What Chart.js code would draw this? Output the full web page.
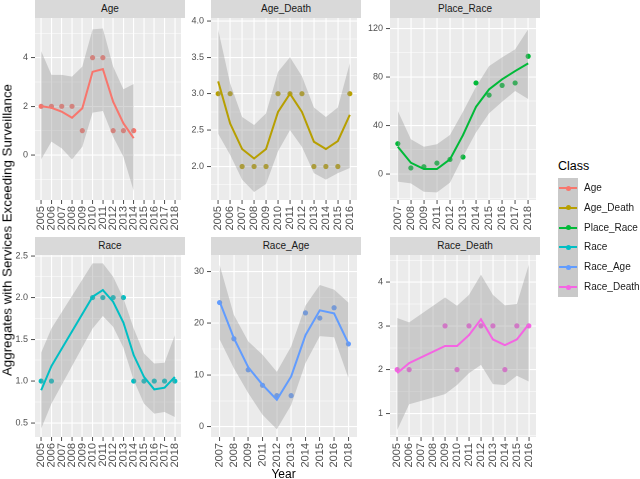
<!DOCTYPE html>
<html><head><meta charset="utf-8">
<script src="https://cdn.jsdelivr.net/npm/chart.js@4.4.0/dist/chart.umd.min.js"></script>
<style>
html,body{margin:0;padding:0;background:#fff;}
#wrap{position:relative;width:640px;height:479px;overflow:hidden;font-family:"Liberation Sans",Arial,sans-serif;}
#wrap canvas{position:absolute;}
.strip{position:absolute;height:18px;background:#D9D9D9;color:#1A1A1A;font-size:10px;line-height:18px;text-align:center;white-space:nowrap;}
.ytitle{position:absolute;left:7px;top:230px;transform:translate(-50%,-50%) rotate(-90deg);white-space:nowrap;font-size:13.3px;line-height:13px;color:#000;}
.xtitle{position:absolute;left:283.5px;top:468px;transform:translateX(-50%);white-space:nowrap;font-size:12px;line-height:12px;color:#000;}
.ltitle{position:absolute;left:558px;top:160px;font-size:12.5px;line-height:12.5px;color:#000;white-space:nowrap;}
.lkeys{position:absolute;left:558px;top:178px;width:20px;height:119px;background:#C9C9C9;}
.lkey{position:absolute;left:0;width:20px;height:19.8px;}
.lkey .ln{position:absolute;left:1px;right:1px;top:9px;height:2px;}
.lkey .dt{position:absolute;left:7.5px;top:7.5px;width:5px;height:5px;border-radius:50%;}
.llab{position:absolute;left:584px;font-size:10px;line-height:12px;color:#1A1A1A;white-space:nowrap;}
</style>
</head><body>
<div id="wrap"></div>
<script>
// ---------- data ----------
const classNames = ['Age','Age_Death','Place_Race','Race','Race_Age','Race_Death'];
const classColors = ['#F8766D','#B79F00','#00BA38','#00BFC4','#619CFF','#F564E3'];

const ageYears = ['2005','2006','2007','2008','2009','2010','2011','2012','2013','2014','2015','2016','2017','2018'];
const agePoints = [2,2,2,2,1,4,4,1,1,1,null,null,null,null];
const ageFit    = [2.01,1.94,1.78,1.53,1.92,3.42,3.53,2.19,1.30,0.69,null,null,null,null];
const ageUpper  = [4.27,3.29,3.29,3.22,3.63,5.16,5.20,3.63,2.70,2.92,null,null,null,null];
const ageLower  = [-0.18,0.55,0.27,-0.18,0.34,1.74,1.81,0.75,-0.07,-1.48,null,null,null,null];
const ageTicks  = [0,2,4];

const ageDeathYears = ['2005','2006','2007','2008','2009','2010','2011','2012','2013','2014','2015','2016'];
const ageDeathPoints = [3,3,2,2,2,3,3,3,2,2,2,3];
const ageDeathFit    = [3.17,2.59,2.24,2.11,2.24,2.75,3.00,2.75,2.34,2.24,2.35,2.71];
const ageDeathUpper  = [3.88,3.14,2.68,2.57,2.73,3.30,3.50,3.24,2.81,2.68,2.81,3.42];
const ageDeathLower  = [2.45,2.16,1.82,1.65,1.76,2.21,2.50,2.27,1.91,1.82,1.91,1.98];
const ageDeathTicks  = [2.0,2.5,3.0,3.5,4.0];

const placeRaceYears = ['2007','2008','2009','2011','2012','2013','2014','2015','2016','2017','2018'];
const placeRacePoints = [25,5,6,9,12,14,75,65,73,75,97];
const placeRaceFit    = [22.5,9.3,4.1,4.1,12.1,32.1,55.4,69.7,78.0,84.8,91.1];
const placeRaceUpper  = [51.9,28.6,22.5,24.5,32.1,51.3,71.9,88.9,96.1,102.7,119.2];
const placeRaceLower  = [-6.3,-7.7,-14.6,-15.1,-7.1,14.3,34.3,50.0,59.5,68.4,61.8];
const placeRaceTicks  = [0,40,80,120];

const raceYears = ['2005','2006','2007','2008','2009','2010','2011','2012','2013','2014','2015','2016','2017','2018'];
const racePoints = [1,1,null,null,null,2,2,2,2,1,1,1,1,1];
const raceFit    = [0.89,1.18,null,null,null,2.01,2.09,1.95,1.70,1.31,1.05,0.90,0.92,1.05];
const raceUpper  = [1.34,1.63,null,null,null,2.41,2.41,2.25,1.99,1.63,1.33,1.21,1.22,1.55];
const raceLower  = [0.43,0.73,null,null,null,1.63,1.78,1.65,1.40,1.01,0.73,0.61,0.63,0.57];
const raceTicks  = [0.5,1.0,1.5,2.0,2.5];

const raceAgeYears = ['2007','2008','2009','2011','2012','2013','2014','2015','2016','2018'];
const raceAgePoints = [24,17,11,8,6,6,22,21,23,16];
const raceAgeFit    = [24.2,17.1,11.5,8.1,5.2,9.7,17.7,22.5,21.9,16.1];
const raceAgeUpper  = [31.3,21.6,16.5,13.9,10.6,15.5,23.4,27.4,26.5,24.0];
const raceAgeLower  = [16.9,11.3,6.5,2.3,-0.5,4.2,12.3,17.5,17.3,9.4];
const raceAgeTicks  = [0,10,20,30];

const raceDeathYears = ['2005','2006','2007','2008','2009','2010','2011','2012','2013','2014','2015','2016'];
const raceDeathPoints = [2,2,null,null,3,2,3,3,3,2,3,3];
const raceDeathFit    = [1.92,2.15,null,null,2.54,2.54,2.79,3.15,2.69,2.56,2.69,3.04];
const raceDeathUpper  = [3.18,3.08,null,null,3.65,3.46,3.71,4.17,3.71,3.47,3.50,4.40];
const raceDeathLower  = [0.62,1.21,null,null,1.44,1.65,1.92,2.11,1.67,1.65,1.86,1.73];
const raceDeathTicks  = [1,2,3,4];

// ---------- layout ----------
const FONT = '"Liberation Sans", Arial, sans-serif';
const PANEL_W = 150, PANEL_H = 182, STRIP_H = 18, YAX_W = 35, XAX_H = 34;
const wrap = document.getElementById('wrap');

const panelBg = {
  id: 'panelBg',
  beforeDraw(chart) {
    const {ctx, chartArea: a} = chart;
    ctx.save();
    ctx.fillStyle = '#EBEBEB';
    ctx.fillRect(a.left, a.top, a.right - a.left, a.bottom - a.top);
    ctx.restore();
  }
};

function toXY(arr) {
  const out = [];
  arr.forEach((v, i) => { if (v !== null) out.push({x: i, y: v}); });
  return out;
}

function makePanel(cfg) {
  const {name, color, years, points, fit, upper, lower, ticks, yMin, yMax, decimals, panelLeft, stripTop} = cfg;
  const step = ticks[1] - ticks[0];
  const allTicks = [];
  for (let i = 0; i < ticks.length; i++) allTicks.push({value: ticks[i], minor: false});
  for (let i = -1; i < ticks.length; i++) {
    const m = (i >= 0 ? ticks[i] : ticks[0] - step) + step / 2;
    if (m > yMin && m < yMax) allTicks.push({value: m, minor: true});
  }
  allTicks.sort((a, b) => a.value - b.value);

  const strip = document.createElement('div');
  strip.className = 'strip';
  strip.style.left = panelLeft + 'px';
  strip.style.top = stripTop + 'px';
  strip.style.width = PANEL_W + 'px';
  strip.textContent = name;
  wrap.appendChild(strip);

  const cv = document.createElement('canvas');
  const W = YAX_W + PANEL_W, H = STRIP_H + PANEL_H + XAX_H;
  cv.width = W; cv.height = H;
  cv.style.width = W + 'px'; cv.style.height = H + 'px';
  cv.style.left = (panelLeft - YAX_W) + 'px';
  cv.style.top = stripTop + 'px';
  wrap.appendChild(cv);

  new Chart(cv.getContext('2d'), {
    type: 'line',
    data: {
      datasets: [
        {data: toXY(fit), borderColor: color, borderWidth: 2, pointRadius: 0, fill: false, tension: 0, order: 1},
        {data: toXY(upper), borderWidth: 0, borderColor: 'rgba(0,0,0,0)', pointRadius: 0, backgroundColor: 'rgba(153,153,153,0.4)', fill: '+1', tension: 0, order: 2},
        {data: toXY(lower), borderWidth: 0, borderColor: 'rgba(0,0,0,0)', pointRadius: 0, fill: false, tension: 0, order: 3},
        {data: toXY(points), showLine: false, pointRadius: 2.6, pointBorderWidth: 0, pointBackgroundColor: color, borderColor: color, order: 4}
      ]
    },
    options: {
      responsive: false, animation: false, devicePixelRatio: 2,
      layout: {padding: {top: STRIP_H, left: 0, right: 0, bottom: 0}},
      plugins: {legend: {display: false}, tooltip: {enabled: false}},
      scales: {
        x: {
          type: 'linear', min: -0.6, max: years.length - 1 + 0.6,
          border: {display: false},
          grid: {color: '#FFFFFF', lineWidth: 1.1, tickLength: 4, tickColor: '#4D4D4D', tickWidth: 1},
          ticks: {autoSkip: false, minRotation: 90, maxRotation: 90, padding: 2, color: '#4D4D4D',
                  font: {family: FONT, size: 11}, callback: (v) => years[v]},
          afterBuildTicks: (s) => { s.ticks = years.map((y, i) => ({value: i})); },
          afterFit: (s) => { s.height = XAX_H; s.paddingLeft = 0; s.paddingRight = 0; }
        },
        y: {
          type: 'linear', min: yMin, max: yMax,
          border: {display: false},
          grid: {color: '#FFFFFF',
                 lineWidth: (c) => (c.tick && c.tick.minor) ? 0.55 : 1.1,
                 tickColor: (c) => (c.tick && c.tick.minor) ? 'rgba(0,0,0,0)' : '#4D4D4D',
                 tickWidth: 1, tickLength: 4},
          ticks: {autoSkip: false, padding: 3, color: '#4D4D4D', font: {family: FONT, size: 9},
                  callback: (v) => ticks.indexOf(v) >= 0 ? v.toFixed(decimals) : ''},
          afterBuildTicks: (s) => { s.ticks = allTicks.map(t => ({value: t.value, minor: t.minor})); },
          afterFit: (s) => { s.width = YAX_W; s.paddingTop = 0; s.paddingBottom = 0; }
        }
      }
    },
    plugins: [panelBg]
  });
}

const colLeft = [35, 211, 390];
const rowTop = [0, 237];

makePanel({name: classNames[0], color: classColors[0], years: ageYears, points: agePoints, fit: ageFit, upper: ageUpper, lower: ageLower,
  ticks: ageTicks, yMin: -1.85, yMax: 5.63, decimals: 0, panelLeft: colLeft[0], stripTop: rowTop[0]});
makePanel({name: classNames[1], color: classColors[1], years: ageDeathYears, points: ageDeathPoints, fit: ageDeathFit, upper: ageDeathUpper, lower: ageDeathLower,
  ticks: ageDeathTicks, yMin: 1.54, yMax: 4.04, decimals: 1, panelLeft: colLeft[1], stripTop: rowTop[0]});
makePanel({name: classNames[2], color: classColors[2], years: placeRaceYears, points: placeRacePoints, fit: placeRaceFit, upper: placeRaceUpper, lower: placeRaceLower,
  ticks: placeRaceTicks, yMin: -21.4, yMax: 128.5, decimals: 0, panelLeft: colLeft[2], stripTop: rowTop[0]});
makePanel({name: classNames[3], color: classColors[3], years: raceYears, points: racePoints, fit: raceFit, upper: raceUpper, lower: raceLower,
  ticks: raceTicks, yMin: 0.33, yMax: 2.51, decimals: 1, panelLeft: colLeft[0], stripTop: rowTop[1]});
makePanel({name: classNames[4], color: classColors[4], years: raceAgeYears, points: raceAgePoints, fit: raceAgeFit, upper: raceAgeUpper, lower: raceAgeLower,
  ticks: raceAgeTicks, yMin: -2.0, yMax: 33.2, decimals: 0, panelLeft: colLeft[1], stripTop: rowTop[1]});
makePanel({name: classNames[5], color: classColors[5], years: raceDeathYears, points: raceDeathPoints, fit: raceDeathFit, upper: raceDeathUpper, lower: raceDeathLower,
  ticks: raceDeathTicks, yMin: 0.46, yMax: 4.62, decimals: 0, panelLeft: colLeft[2], stripTop: rowTop[1]});

// ---------- titles & legend ----------
function addDiv(cls, text, styles) {
  const d = document.createElement('div');
  d.className = cls;
  if (text !== null) d.textContent = text;
  Object.assign(d.style, styles || {});
  wrap.appendChild(d);
  return d;
}
addDiv('ytitle', 'Aggregates with Services Exceeding Surveillance');
addDiv('xtitle', 'Year');
addDiv('ltitle', 'Class');
const keys = addDiv('lkeys', null);
classNames.forEach((c, i) => {
  const k = document.createElement('div');
  k.className = 'lkey';
  k.style.top = (i * 19.8) + 'px';
  const ln = document.createElement('div'); ln.className = 'ln'; ln.style.background = classColors[i];
  const dt = document.createElement('div'); dt.className = 'dt'; dt.style.background = classColors[i];
  k.appendChild(ln); k.appendChild(dt);
  keys.appendChild(k);
  addDiv('llab', c, {top: (178 + i * 19.8 + 4) + 'px'});
});
</script>
</body></html>
